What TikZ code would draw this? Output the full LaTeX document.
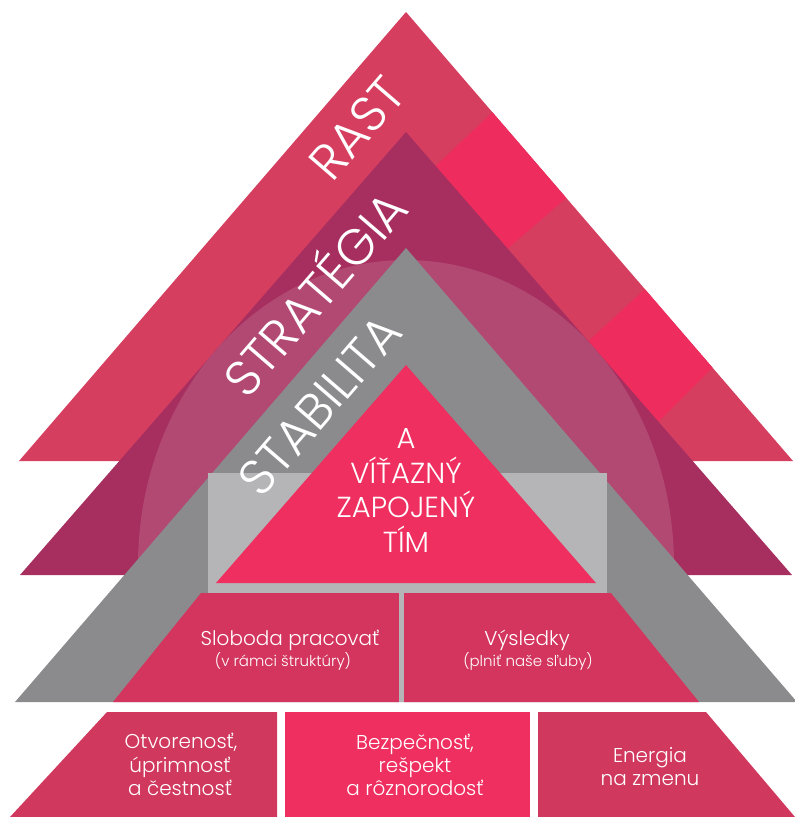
\documentclass[tikz,border=0pt]{standalone}
\usepackage{fontspec}
\setmainfont{Poppins}[UprightFont={* Light}]
\definecolor{outerred}{HTML}{D63E60}
\definecolor{brightred}{HTML}{EE2C5D}
\definecolor{darkmag}{HTML}{A62F60}
\definecolor{lightmag}{HTML}{B24973}
\definecolor{midgray}{HTML}{8B8B8D}
\definecolor{lightgrey}{HTML}{B5B5B7}
\definecolor{innerred}{HTML}{EF2F60}
\definecolor{midred}{HTML}{D4355E}
\definecolor{basered}{HTML}{D0385E}
\definecolor{basemid}{HTML}{EE2F60}
\tikzset{
  bandtext/.style={text=white, font=\fontsize{50}{50}\selectfont, inner sep=0pt,
    text height=35pt, text depth=0pt, rotate=49.2},
  teamline/.style={text=white, font=\fontsize{29}{29}\selectfont, inner sep=0pt, anchor=base},
  boxtitle/.style={text=white, font=\fontsize{20}{20}\selectfont, inner sep=0pt, anchor=base},
  boxsub/.style={text=white, font=\fontsize{15}{15}\selectfont, inner sep=0pt, anchor=base},
  baseline/.style={text=white, font=\fontsize{20}{20}\selectfont, inner sep=0pt, anchor=base}
}
\begin{document}
\begin{tikzpicture}[x=1pt,y=-1pt]
\useasboundingbox (0,0) rectangle (795,817);
% outer triangle (RAST)
\fill[outerred] (406,12) -- (793,461) -- (19,461) -- cycle;
\begin{scope}
  \clip (406,12) -- (793,461) -- (19,461) -- cycle;
  \fill[brightred] (420,181) -- (520,86) -- (600,169) -- (500,255) -- cycle;
  \fill[brightred] (580,349) -- (670,266) -- (735,345) -- (645,435) -- cycle;
\end{scope}
% magenta triangle (STRATEGIA)
\fill[darkmag] (406,132) -- (792,575) -- (20,575) -- cycle;
\begin{scope}
  \clip (406,132) -- (792,575) -- (20,575) -- cycle;
  \fill[lightmag] (406,565) ellipse [x radius=268, y radius=305];
\end{scope}
% gray triangle (STABILITA)
\fill[midgray] (406,248) -- (797,702) -- (15,702) -- cycle;
\fill[lightgrey] (208,473) rectangle (607,593);
% inner triangle
\fill[innerred] (406,365) -- (596,583) -- (216,583) -- cycle;
% middle row
\fill[midred] (201,593) -- (399,593) -- (399,702) -- (113,702) -- cycle;
\fill[lightgrey] (399,593) rectangle (404,702);
\fill[midred] (404,593) -- (611,593) -- (699,702) -- (404,702) -- cycle;
% bottom row
\fill[basered] (107,712) -- (277,712) -- (277,817) -- (10,817) -- cycle;
\fill[basemid] (285,712) rectangle (530,817);
\fill[basered] (538,712) -- (706,712) -- (795,817) -- (538,817) -- cycle;
% band texts
\node[bandtext] (rast) at (357,128) {RAST};
\node[bandtext] (strat) at (316,294) {STRATÉGIA};
\node[bandtext] (stab) at (320,405) {STABILITA};
% team
\node[teamline] (t1) at (406,448) {A};
\node[teamline] (t2) at (406,483) {VÍŤAZNÝ};
\node[teamline] (t3) at (406,517) {ZAPOJENÝ};
\node[teamline] (t4) at (406,552) {TÍM};
% middle row texts
\node[boxtitle] (slo) at (290,645) {Sloboda pracovať};
\node[boxsub] (slosub) at (283,666) {(v rámci štruktúry)};
\node[boxtitle] (vys) at (527,645) {Výsledky};
\node[boxsub] (vyssub) at (528,666) {(plniť naše sľuby)};
% bottom row texts
\node[baseline] (o1) at (181,748) {Otvorenosť,};
\node[baseline] (o2) at (180,772) {úprimnosť};
\node[baseline] (o3) at (180,795) {a čestnosť};
\node[baseline] (b1) at (415,749) {Bezpečnosť,};
\node[baseline] (b2) at (415,772) {rešpekt};
\node[baseline] (b3) at (415,795) {a rôznorodosť};
\node[baseline] (e1) at (650,762) {Energia};
\node[baseline] (e2) at (650,785) {na zmenu};
\end{tikzpicture}
\end{document}
